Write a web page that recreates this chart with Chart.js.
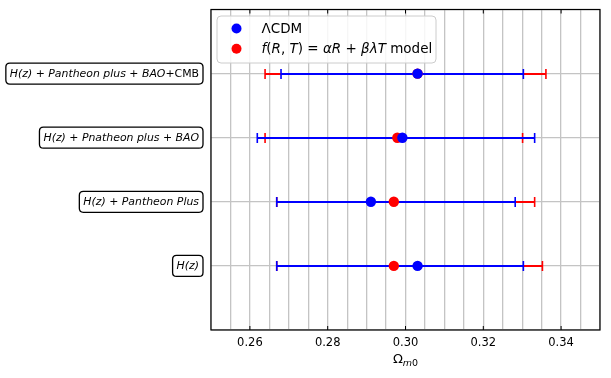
<!DOCTYPE html>
<html><head><meta charset="utf-8">
<script src="https://cdn.jsdelivr.net/npm/chart.js@4"></script>
<style>html,body{margin:0;padding:0;background:#fff;}#wrap{width:611px;height:378px;}</style>
</head><body><div id="wrap"><canvas id="c" width="611" height="378"></canvas></div>
<script>
const rowPositions = [1, 2, 3, 4];
const rowLabels = [
  [["H(z)", true]],
  [["H(z)", true], [" + ", false], ["Pantheon Plus", true]],
  [["H(z)", true], [" + ", false], ["Pnatheon plus", true], [" + ", false], ["BAO", true]],
  [["H(z)", true], [" + ", false], ["Pantheon plus", true], [" + ", false], ["BAO", true], ["+CMB", false]]
];
const lcdmCenter = [0.3031, 0.2911, 0.2992, 0.3031];
const lcdmLower  = [0.2669, 0.2669, 0.2619, 0.2680];
const lcdmUpper  = [0.3303, 0.3282, 0.3332, 0.3303];
const frtCenter  = [0.2970, 0.2970, 0.2979, 0.3031];
const frtLower   = [0.2669, 0.2669, 0.2639, 0.2639];
const frtUpper   = [0.3352, 0.3332, 0.3301, 0.3361];
const xTickLabels = [0.26, 0.28, 0.30, 0.32, 0.34];
const legendItems = [
  {color: "#0000ff", parts: [["ΛCDM", false]]},
  {color: "#ff0000", parts: [["f", true], ["(", false], ["R", true], [", ", false], ["T", true], [") = ", false], ["αR", true], [" + ", false], ["βλT", true], [" model", false]]}
];

const FONT = "'DejaVu Sans'";
function fontFor(it, size){ return (it ? "oblique " : "") + size + "px " + FONT; }
function measureParts(ctx, parts, size){
  let w = 0;
  for (const [t, it] of parts){ ctx.font = fontFor(it, size); w += ctx.measureText(t).width; }
  return w;
}
function drawParts(ctx, parts, x, y, size){
  for (const [t, it] of parts){ ctx.font = fontFor(it, size); ctx.fillText(t, x, y); x += ctx.measureText(t).width; }
}
function roundRect(ctx, x, y, w, h, r){
  ctx.beginPath();
  ctx.moveTo(x + r, y); ctx.lineTo(x + w - r, y); ctx.quadraticCurveTo(x + w, y, x + w, y + r);
  ctx.lineTo(x + w, y + h - r); ctx.quadraticCurveTo(x + w, y + h, x + w - r, y + h);
  ctx.lineTo(x + r, y + h); ctx.quadraticCurveTo(x, y + h, x, y + h - r);
  ctx.lineTo(x, y + r); ctx.quadraticCurveTo(x, y, x + r, y); ctx.closePath();
}

const errorBarPlugin = {
  id: "errbars",
  beforeDatasetsDraw(chart){
    const ctx = chart.ctx, xs = chart.scales.x, ys = chart.scales.y;
    const sets = [[frtLower, frtUpper, "#ff0000"], [lcdmLower, lcdmUpper, "#0000ff"]];
    ctx.save();
    for (const [lo, hi, col] of sets){
      ctx.strokeStyle = col;
      for (let i = 0; i < rowPositions.length; i++){
        const y = Math.round(ys.getPixelForValue(rowPositions[i]));
        const x1 = xs.getPixelForValue(lo[i]), x2 = xs.getPixelForValue(hi[i]);
        ctx.lineWidth = 2;
        ctx.beginPath(); ctx.moveTo(x1, y); ctx.lineTo(x2, y); ctx.stroke();
        ctx.lineWidth = 1.6;
        ctx.beginPath(); ctx.moveTo(x1, y - 5); ctx.lineTo(x1, y + 5);
        ctx.moveTo(x2, y - 5); ctx.lineTo(x2, y + 5); ctx.stroke();
      }
    }
    ctx.restore();
  }
};

const decorPlugin = {
  id: "decor",
  afterDraw(chart){
    const ctx = chart.ctx, xs = chart.scales.x, ys = chart.scales.y, a = chart.chartArea;
    ctx.save();
    ctx.strokeStyle = "#000"; ctx.lineWidth = 1.2;
    ctx.strokeRect(a.left, a.top, a.right - a.left, a.bottom - a.top);
    ctx.lineWidth = 1;
    for (const v of xTickLabels){
      const x = xs.getPixelForValue(v);
      ctx.beginPath(); ctx.moveTo(x, a.bottom); ctx.lineTo(x, a.bottom - 4);
      ctx.moveTo(x, a.top); ctx.lineTo(x, a.top + 4); ctx.stroke();
    }
    const size = 10.9;
    ctx.textBaseline = "middle"; ctx.fillStyle = "#000";
    for (let i = 0; i < rowPositions.length; i++){
      const y = ys.getPixelForValue(rowPositions[i]);
      const w = measureParts(ctx, rowLabels[i], size);
      const right = a.left - 8;
      const bx = right - w - 8;
      roundRect(ctx, bx, y - 10.5, w + 8, 21, 4);
      ctx.fillStyle = "#fff"; ctx.fill();
      ctx.strokeStyle = "#000"; ctx.lineWidth = 1.3; ctx.stroke();
      ctx.fillStyle = "#000";
      drawParts(ctx, rowLabels[i], bx + 4, y + 0.5, size);
    }
    const cx = (a.left + a.right) / 2;
    ctx.font = "13px " + FONT;
    const wO = ctx.measureText("Ω").width;
    ctx.font = "oblique 9.5px " + FONT;
    const wm = ctx.measureText("m").width;
    ctx.font = "9.5px " + FONT;
    const w0 = ctx.measureText("0").width;
    let x = cx - (wO + wm + w0) / 2;
    ctx.textBaseline = "alphabetic";
    ctx.font = "13px " + FONT; ctx.fillText("Ω", x, 363); x += wO;
    ctx.font = "oblique 9.5px " + FONT; ctx.fillText("m", x, 366); x += wm;
    ctx.font = "9.5px " + FONT; ctx.fillText("0", x, 366);
    const lx = a.left + 6, ly = a.top + 6.5, lw = 219, lh = 47;
    roundRect(ctx, lx, ly, lw, lh, 4);
    ctx.fillStyle = "rgba(255,255,255,0.85)"; ctx.fill();
    ctx.strokeStyle = "#cccccc"; ctx.lineWidth = 1; ctx.stroke();
    ctx.textBaseline = "middle";
    legendItems.forEach((it, k) => {
      const yy = ly + 12.5 + k * 20.3;
      ctx.fillStyle = it.color;
      ctx.beginPath(); ctx.arc(lx + 19.5, yy, 5, 0, Math.PI * 2); ctx.fill();
      ctx.fillStyle = "#000";
      drawParts(ctx, it.parts, lx + 44.5, yy + 0.5, 13.5);
    });
    ctx.restore();
  }
};

const chart = new Chart(document.getElementById("c"), {
  type: "scatter",
  data: {
    datasets: [
      {label: "ΛCDM", data: rowPositions.map((p, i) => ({x: lcdmCenter[i], y: p})),
       backgroundColor: "#0000ff", borderColor: "#0000ff", pointRadius: 5.2, pointHoverRadius: 5.2, borderWidth: 0, order: 0},
      {label: "f(R,T) = αR + βλT model", data: rowPositions.map((p, i) => ({x: frtCenter[i], y: p})),
       backgroundColor: "#ff0000", borderColor: "#ff0000", pointRadius: 5.2, pointHoverRadius: 5.2, borderWidth: 0, order: 1}
    ]
  },
  options: {
    responsive: false, animation: false, devicePixelRatio: 1,
    layout: {padding: {top: 9.5, right: 11, left: 0, bottom: 0}},
    plugins: {legend: {display: false}, tooltip: {enabled: false}},
    scales: {
      x: {
        type: "linear", min: 0.25, max: 0.35,
        afterFit(s){ s.height = 48; },
        afterBuildTicks(s){ const t = []; for (let k = 0; k <= 20; k++) t.push({value: 0.25 + k * 0.005}); s.ticks = t; },
        ticks: {
          autoSkip: false, maxRotation: 0, padding: 6, color: "#000",
          font: {family: "DejaVu Sans", size: 11.5},
          callback(v){ const m = Math.round(v * 1000); return xTickLabels.some(t => Math.round(t * 1000) === m) ? v.toFixed(2) : ""; }
        },
        grid: {color: "#c4c4c4", lineWidth: 1.3, drawTicks: false},
        border: {display: false}
      },
      y: {
        type: "linear", min: 0, max: 5,
        afterFit(s){ s.width = 211; },
        afterBuildTicks(s){ s.ticks = [0, 1, 2, 3, 4, 5].map(v => ({value: v})); },
        ticks: {display: false},
        grid: {color: "#c4c4c4", lineWidth: 1.3, drawTicks: false},
        border: {display: false}
      }
    }
  },
  plugins: [errorBarPlugin, decorPlugin]
});
</script>
</body></html>
